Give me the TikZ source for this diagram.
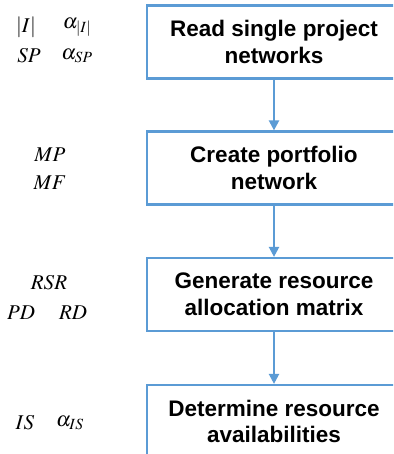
\documentclass[tikz,border=0pt]{standalone}
\usepackage{mathptmx}
\usepackage{fontspec}
\setsansfont{Liberation Sans}
\usepackage{tikz}
\usetikzlibrary{arrows.meta,positioning}
\definecolor{flowblue}{RGB}{91,155,213}

\begin{document}
\begin{tikzpicture}[
  x=1pt, y=1pt,
  stage/.style={draw=flowblue, line width=2.2pt, minimum width=254pt, minimum height=73pt,
                align=center, inner sep=0pt, font=\sffamily\bfseries\fontsize{22.5}{26.5}\selectfont},
  param/.style={inner sep=0pt, font=\fontsize{21}{24}\selectfont},
  flow/.style={draw=flowblue, line width=2.2pt, -{Triangle[width=10pt,length=10pt]}},
]
\useasboundingbox (0,0) rectangle (393,-454);
\clip (0,0) rectangle (393,-454);

\node[stage] (read) at (274,-42) {Read single project\\networks};
\node[stage] (create) at (274,-168) {Create portfolio\\network};
\node[stage] (gen) at (274,-294.5) {Generate resource\\allocation matrix};
\node[stage] (det) at (274,-421.5) {Determine resource\\availabilities};

\draw[flow] (read) -- (create);
\draw[flow] (create) -- (gen);
\draw[flow] (gen) -- (det);

% parameters on the left
\node[param] (card) at (26,-27) {$|I|$};
\node[param] (alphaI) at (77,-27) {$\alpha_{|I|}$};
\node[param] (sp) at (29,-56) {$SP$};
\node[param] (alphaSP) at (77,-56) {$\alpha_{SP}$};
\node[param] (mp) at (50,-155) {$MP$};
\node[param] (mf) at (50,-183) {$MF$};
\node[param] (rsr) at (49,-283) {$RSR$};
\node[param] (pd) at (21,-313) {$PD$};
\node[param] (rd) at (73,-313) {$RD$};
\node[param] (is) at (25,-423) {$IS$};
\node[param] (alphaIS) at (70,-423) {$\alpha_{IS}$};
\end{tikzpicture}
\end{document}
